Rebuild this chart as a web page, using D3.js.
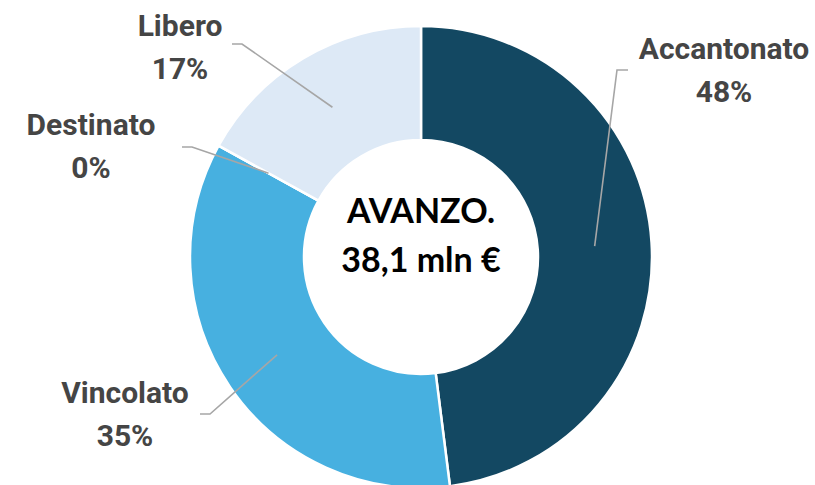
<!DOCTYPE html>
<html>
<head>
<meta charset="utf-8">
<script src="https://cdn.jsdelivr.net/npm/d3@7"></script>
<style>
  html, body { margin: 0; padding: 0; background: #fff; }
  svg { display: block; }
</style>
</head>
<body>
<div id="chart"></div>
<script>
// avanzo di amministrazione, quote in %
var categories = ["Accantonato", "Vincolato", "Destinato", "Libero"];
var values = [48, 35, 0, 17];
var pctLabels = ["48%", "35%", "0%", "17%"];
var centerLines = ["AVANZO.", "38,1 mln €"];

var colors = ["#134862", "#47b0e0", "#47b0e0", "#dde9f6"];

// where the labels sit (text anchor x, baseline of first line y) and elbow
var labelPos = [
  { x: 724, y: 59, ex: 628, ey: 70, kx: 617 },
  { x: 125, y: 403, ex: 200, ey: 414, kx: 210 },
  { x: 91, y: 135, ex: 182, ey: 147, kx: 192 },
  { x: 180, y: 36, ex: 232, ey: 44, kx: 242 }
];

var width = 815, height = 485;
var cx = 421, cy = 257;
var outerR = 231, innerR = 117;

var svg = d3.select("#chart").append("svg")
  .attr("width", width)
  .attr("height", height);

var g = svg.append("g").attr("transform", "translate(" + cx + "," + cy + ")");

var pie = d3.pie().sort(null).value(function(d) { return d; });
var arc = d3.arc().innerRadius(innerR).outerRadius(outerR);

var arcs = pie(values);

g.selectAll("path.slice").data(arcs).enter()
  .append("path")
    .attr("class", "slice")
    .attr("d", arc)
    .attr("fill", function(d, i) { return colors[i]; })
    .attr("stroke", "#fff")
    .attr("stroke-width", 2.5)
    .attr("stroke-linejoin", "round");

// leader lines: label elbow -> centroid of the slice
svg.selectAll("polyline.leader").data(arcs).enter()
  .append("polyline")
    .attr("class", "leader")
    .attr("fill", "none")
    .attr("stroke", "#a6a6a6")
    .attr("stroke-width", 1.6)
    .attr("points", function(d, i) {
      var c = arc.centroid(d);
      var p = labelPos[i];
      return [[p.ex, p.ey], [p.kx, p.ey], [cx + c[0], cy + c[1]]].join(" ");
    });

var labels = svg.selectAll("text.lbl").data(categories).enter()
  .append("text")
    .attr("class", "lbl")
    .attr("text-anchor", "middle")
    .attr("font-family", "Roboto, 'DejaVu Sans', sans-serif")
    .attr("font-weight", 700)
    .attr("font-size", 30)
    .attr("fill", "#454545");

labels.append("tspan")
  .attr("x", function(d, i) { return labelPos[i].x; })
  .attr("y", function(d, i) { return labelPos[i].y; })
  .text(function(d) { return d; });

labels.append("tspan")
  .attr("x", function(d, i) { return labelPos[i].x; })
  .attr("y", function(d, i) { return labelPos[i].y + 43; })
  .text(function(d, i) { return pctLabels[i]; });

// testo centrale
g.selectAll("text.center").data(centerLines).enter()
  .append("text")
    .attr("class", "center")
    .attr("text-anchor", "middle")
    .attr("font-family", "Lato, 'Open Sans', sans-serif")
    .attr("font-weight", 700)
    .attr("font-size", 34)
    .attr("fill", "#000")
    .attr("x", 0)
    .attr("y", function(d, i) { return -34 + i * 49; })
    .text(function(d) { return d; });
</script>
</body>
</html>
